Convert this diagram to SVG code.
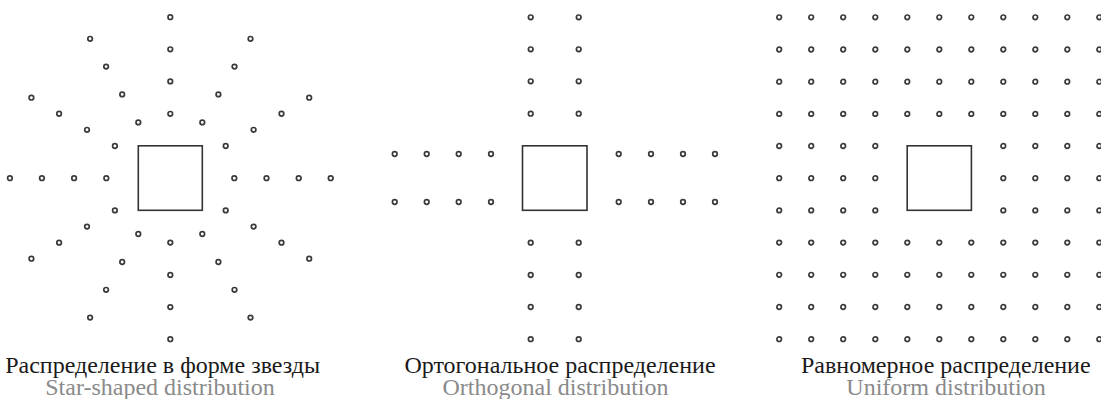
<svg xmlns="http://www.w3.org/2000/svg" xmlns:xlink="http://www.w3.org/1999/xlink" width="1101" height="399" viewBox="0 0 1101 399">
<style>
.d{fill:#fff;stroke:#3a3a3a;stroke-width:1.7}
.sq{fill:none;stroke:#333;stroke-width:1.6}
.t{font-family:"Liberation Serif","Times New Roman",serif;font-size:24px;text-anchor:middle}
.ru{fill:#1a1a1a}
.en{fill:#8a8a8a}
</style>
<defs>
<g id="urow">
<circle class="d" cx="779.2" cy="0" r="2.3"/><circle class="d" cx="811.2" cy="0" r="2.3"/><circle class="d" cx="843.2" cy="0" r="2.3"/><circle class="d" cx="875.3" cy="0" r="2.3"/><circle class="d" cx="907.3" cy="0" r="2.3"/><circle class="d" cx="939.3" cy="0" r="2.3"/><circle class="d" cx="971.3" cy="0" r="2.3"/><circle class="d" cx="1003.3" cy="0" r="2.3"/><circle class="d" cx="1035.3" cy="0" r="2.3"/><circle class="d" cx="1067.3" cy="0" r="2.3"/><circle class="d" cx="1099.3" cy="0" r="2.3"/>
</g>
<g id="uprow">
<circle class="d" cx="779.2" cy="0" r="2.3"/><circle class="d" cx="811.2" cy="0" r="2.3"/><circle class="d" cx="843.2" cy="0" r="2.3"/><circle class="d" cx="875.3" cy="0" r="2.3"/><circle class="d" cx="1003.3" cy="0" r="2.3"/><circle class="d" cx="1035.3" cy="0" r="2.3"/><circle class="d" cx="1067.3" cy="0" r="2.3"/><circle class="d" cx="1099.3" cy="0" r="2.3"/>
</g>
</defs>
<rect width="1101" height="399" fill="#fff"/>

<g id="star">
<rect class="sq" x="138.3" y="145.8" width="64" height="64.5"/>
<circle class="d" cx="234.3" cy="178.2" r="2.3"/><circle class="d" cx="266.5" cy="178.2" r="2.3"/><circle class="d" cx="298.7" cy="178.2" r="2.3"/><circle class="d" cx="330.7" cy="178.2" r="2.3"/>
<circle class="d" cx="106.3" cy="178.2" r="2.3"/><circle class="d" cx="74.1" cy="178.2" r="2.3"/><circle class="d" cx="41.9" cy="178.2" r="2.3"/><circle class="d" cx="9.9" cy="178.2" r="2.3"/>
<circle class="d" cx="170.3" cy="113.8" r="2.3"/><circle class="d" cx="170.3" cy="81.4" r="2.3"/><circle class="d" cx="170.3" cy="49.3" r="2.3"/><circle class="d" cx="170.3" cy="17.2" r="2.3"/>
<circle class="d" cx="170.3" cy="242.6" r="2.3"/><circle class="d" cx="170.3" cy="275" r="2.3"/><circle class="d" cx="170.3" cy="307.1" r="2.3"/><circle class="d" cx="170.3" cy="339.2" r="2.3"/>
<circle class="d" cx="225.7" cy="146" r="2.3"/><circle class="d" cx="253.6" cy="129.8" r="2.3"/><circle class="d" cx="281.5" cy="113.75" r="2.3"/><circle class="d" cx="309.2" cy="97.7" r="2.3"/>
<circle class="d" cx="114.9" cy="146" r="2.3"/><circle class="d" cx="87" cy="129.8" r="2.3"/><circle class="d" cx="59.1" cy="113.75" r="2.3"/><circle class="d" cx="31.4" cy="97.7" r="2.3"/>
<circle class="d" cx="225.7" cy="210.4" r="2.3"/><circle class="d" cx="253.6" cy="226.6" r="2.3"/><circle class="d" cx="281.5" cy="242.65" r="2.3"/><circle class="d" cx="309.2" cy="258.7" r="2.3"/>
<circle class="d" cx="114.9" cy="210.4" r="2.3"/><circle class="d" cx="87" cy="226.6" r="2.3"/><circle class="d" cx="59.1" cy="242.65" r="2.3"/><circle class="d" cx="31.4" cy="258.7" r="2.3"/>
<circle class="d" cx="202.3" cy="122.4" r="2.3"/><circle class="d" cx="218.4" cy="94.4" r="2.3"/><circle class="d" cx="234.5" cy="66.6" r="2.3"/><circle class="d" cx="250.5" cy="38.8" r="2.3"/>
<circle class="d" cx="138.3" cy="122.4" r="2.3"/><circle class="d" cx="122.2" cy="94.4" r="2.3"/><circle class="d" cx="106.1" cy="66.6" r="2.3"/><circle class="d" cx="90.1" cy="38.8" r="2.3"/>
<circle class="d" cx="202.3" cy="234" r="2.3"/><circle class="d" cx="218.4" cy="262" r="2.3"/><circle class="d" cx="234.5" cy="289.8" r="2.3"/><circle class="d" cx="250.5" cy="317.6" r="2.3"/>
<circle class="d" cx="138.3" cy="234" r="2.3"/><circle class="d" cx="122.2" cy="262" r="2.3"/><circle class="d" cx="106.1" cy="289.8" r="2.3"/><circle class="d" cx="90.1" cy="317.6" r="2.3"/>
<text class="t ru" x="162.7" y="373.3">Распределение в форме звезды</text>
<text class="t en" x="160" y="394.5">Star-shaped distribution</text>
</g>

<g id="orthogonal">
<rect class="sq" x="522.5" y="145.8" width="64.5" height="64.5"/>
<circle class="d" cx="530.7" cy="17.3" r="2.3"/><circle class="d" cx="530.7" cy="49.3" r="2.3"/><circle class="d" cx="530.7" cy="81.3" r="2.3"/><circle class="d" cx="530.7" cy="113.7" r="2.3"/>
<circle class="d" cx="578.7" cy="17.3" r="2.3"/><circle class="d" cx="578.7" cy="49.3" r="2.3"/><circle class="d" cx="578.7" cy="81.3" r="2.3"/><circle class="d" cx="578.7" cy="113.7" r="2.3"/>
<circle class="d" cx="530.7" cy="242.7" r="2.3"/><circle class="d" cx="530.7" cy="275" r="2.3"/><circle class="d" cx="530.7" cy="307" r="2.3"/><circle class="d" cx="530.7" cy="339.2" r="2.3"/>
<circle class="d" cx="578.7" cy="242.7" r="2.3"/><circle class="d" cx="578.7" cy="275" r="2.3"/><circle class="d" cx="578.7" cy="307" r="2.3"/><circle class="d" cx="578.7" cy="339.2" r="2.3"/>
<circle class="d" cx="394.7" cy="154" r="2.3"/><circle class="d" cx="426.7" cy="154" r="2.3"/><circle class="d" cx="458.7" cy="154" r="2.3"/><circle class="d" cx="491" cy="154" r="2.3"/>
<circle class="d" cx="618.7" cy="154" r="2.3"/><circle class="d" cx="651" cy="154" r="2.3"/><circle class="d" cx="683" cy="154" r="2.3"/><circle class="d" cx="715" cy="154" r="2.3"/>
<circle class="d" cx="394.7" cy="202" r="2.3"/><circle class="d" cx="426.7" cy="202" r="2.3"/><circle class="d" cx="458.7" cy="202" r="2.3"/><circle class="d" cx="491" cy="202" r="2.3"/>
<circle class="d" cx="618.7" cy="202" r="2.3"/><circle class="d" cx="651" cy="202" r="2.3"/><circle class="d" cx="683" cy="202" r="2.3"/><circle class="d" cx="715" cy="202" r="2.3"/>
<text class="t ru" x="560" y="373.3">Ортогональное распределение</text>
<text class="t en" x="555.5" y="394.5">Orthogonal distribution</text>
</g>

<g id="uniform">
<rect class="sq" x="907.2" y="145.8" width="64.2" height="64.5"/>
<use xlink:href="#urow" y="17.3"/>
<use xlink:href="#urow" y="49.5"/>
<use xlink:href="#urow" y="81.7"/>
<use xlink:href="#urow" y="113.9"/>
<use xlink:href="#uprow" y="146"/>
<use xlink:href="#uprow" y="178.2"/>
<use xlink:href="#uprow" y="210.4"/>
<use xlink:href="#urow" y="242.6"/>
<use xlink:href="#urow" y="274.8"/>
<use xlink:href="#urow" y="307"/>
<use xlink:href="#urow" y="339.2"/>
<text class="t ru" x="945.8" y="373.3">Равномерное распределение</text>
<text class="t en" x="946" y="394.5">Uniform distribution</text>
</g>
</svg>
